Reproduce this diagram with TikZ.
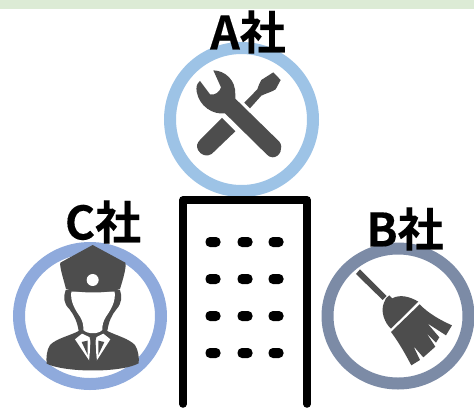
\documentclass[tikz,border=0pt]{standalone}
\usepackage{fontspec}
\newfontfamily\cjk{Noto Sans CJK JP}[BoldFont={Noto Sans CJK JP Bold},BoldFeatures={FakeBold=0.25}]
\definecolor{bandgreen}{HTML}{DCEBD5}
\definecolor{ringa}{HTML}{9DC3E6}
\definecolor{ringb}{HTML}{7C8BA6}
\definecolor{ringc}{HTML}{8FAADC}
\definecolor{icondark}{HTML}{4D4D4D}
\tikzset{
  ring/.style={draw=#1,line width=12pt,fill=white},
  companylabel/.style={font=\cjk\bfseries\fontsize{46}{46}\selectfont,text=black,inner sep=0pt},
  icon/.style={fill=icondark,draw=none},
  cutout/.style={fill=white,draw=none},
  wall/.style={draw=black,line width=7.5pt,line cap=round,line join=round},
  win/.style={fill=black,rounded corners=4.5pt,draw=none},
  thirdgrid/.style={x=0.3333pt,y=-0.3333pt}
}
\begin{document}
\begin{tikzpicture}[x=1pt,y=-1pt]
\useasboundingbox (0,0) rectangle (474,408);
\fill[bandgreen] (0,0) rectangle (474,9);
% rings
\draw[ring=ringa] (241.5,119.5) ellipse [x radius=71.5,y radius=71.5];
\draw[ring=ringc] (90,316) ellipse [x radius=71,y radius=68];
\draw[ring=ringb] (398,316) ellipse [x radius=70.5,y radius=67.5];
% building
\draw[wall] (183,404) -- (183,200) -- (307,200) -- (307,404);
\draw[black,line width=2pt] (180,200.5) -- (310,200.5);
\foreach \y in {242,279,316,353}\foreach \x in {213,245,276}
  \fill[win] (\x-7.5,\y-5) rectangle (\x+7.5,\y+5);
% wrench + screwdriver
\begin{scope}[shift={(160,0)},thirdgrid]
  \fill[icon] (340,217) -- (362,240) -- (347,268) .. controls (335,276) and (318,280) .. (304,287) -- (270,325) -- (253,308) -- (292,268) .. controls (296,258) and (298,248) .. (304,240) -- cycle;
  \fill[icon] (186,354) -- (226,394) -- (155,462) .. controls (140,472) and (122,465) .. (114,450) .. controls (108,438) and (112,428) .. (120,420) -- cycle;
  \fill[icon] (160,211) .. controls (195,212) and (228,240) .. (226,285) -- (226,296)
     -- (358,425) .. controls (372,442) and (360,472) .. (338,472) .. controls (330,472) and (325,468) .. (320,463)
     -- (195,340) .. controls (160,345) and (118,320) .. (110,275) .. controls (108,262) and (110,250) .. (120,243)
     -- (150,283) .. controls (165,287) and (180,275) .. (183,262) -- cycle;
\end{scope}
% officer
\begin{scope}[shift={(0,195)},thirdgrid]
  \fill[icon] (197,285) .. controls (190,305) and (190,325) .. (208,342) .. controls (222,360) and (232,380) .. (236,408)
     .. controls (210,422) and (170,430) .. (150,450) .. controls (140,465) and (138,490) .. (140,506)
     .. controls (190,532) and (360,535) .. (416,505) .. controls (418,490) and (415,465) .. (405,450)
     .. controls (385,430) and (350,422) .. (322,408) .. controls (326,380) and (335,360) .. (350,342)
     .. controls (365,325) and (367,305) .. (360,285) -- cycle;
  \fill[cutout] (214,290) .. controls (210,320) and (226,345) .. (240,365) .. controls (248,378) and (251,392) .. (250,405)
     .. controls (262,418) and (295,418) .. (307,405) .. controls (306,392) and (310,378) .. (318,365)
     .. controls (332,345) and (348,320) .. (344,290) -- cycle;
  \fill[cutout] (225,433) -- (246,416) -- (272,428) -- (268,497) -- cycle;
  \fill[cutout] (331,433) -- (310,416) -- (286,428) -- (290,497) -- cycle;
  \fill[icon] (245,441) -- (263,437) -- (263,480) -- cycle;
  \fill[icon] (313,441) -- (295,437) -- (295,480) -- cycle;
  \fill[icon] (268,424) -- (279,432) -- (290,424) -- (285,442) -- (290,498) -- (279,512) -- (268,498) -- (273,442) -- cycle;
  \fill[icon] (278,150) -- (376,203) .. controls (380,215) and (370,250) .. (360,282)
     .. controls (320,296) and (240,296) .. (198,282) .. controls (190,250) and (178,215) .. (181,203) -- cycle;
  \fill[white] (278,255) circle [radius=18];
\end{scope}
% broom
\begin{scope}[shift={(310,200)},thirdgrid]
  \fill[icon] (150,208) -- (138,222) -- (218,300) -- (230,288) -- cycle;
  \fill[icon] (228,295) -- (238,286) -- (247,295) .. controls (270,282) and (300,290) .. (325,305)
     -- (243,386) .. controls (225,370) and (210,335) .. (222,308) -- cycle;
  \fill[icon] (329,313) .. controls (355,340) and (390,360) .. (426,376) -- (408,406)
     -- (352,370) -- (388,412) -- (378,428) -- (350,400) -- (376,440) -- (340,472)
     -- (310,438) -- (330,480) -- (304,496) .. controls (285,460) and (265,425) .. (243,396) -- cycle;
\end{scope}
% labels
\node[companylabel] (a) at (248,32) {A社};
\node[companylabel] (b) at (405,229) {B社};
\node[companylabel] (c) at (103,222) {C社};
\end{tikzpicture}
\end{document}
